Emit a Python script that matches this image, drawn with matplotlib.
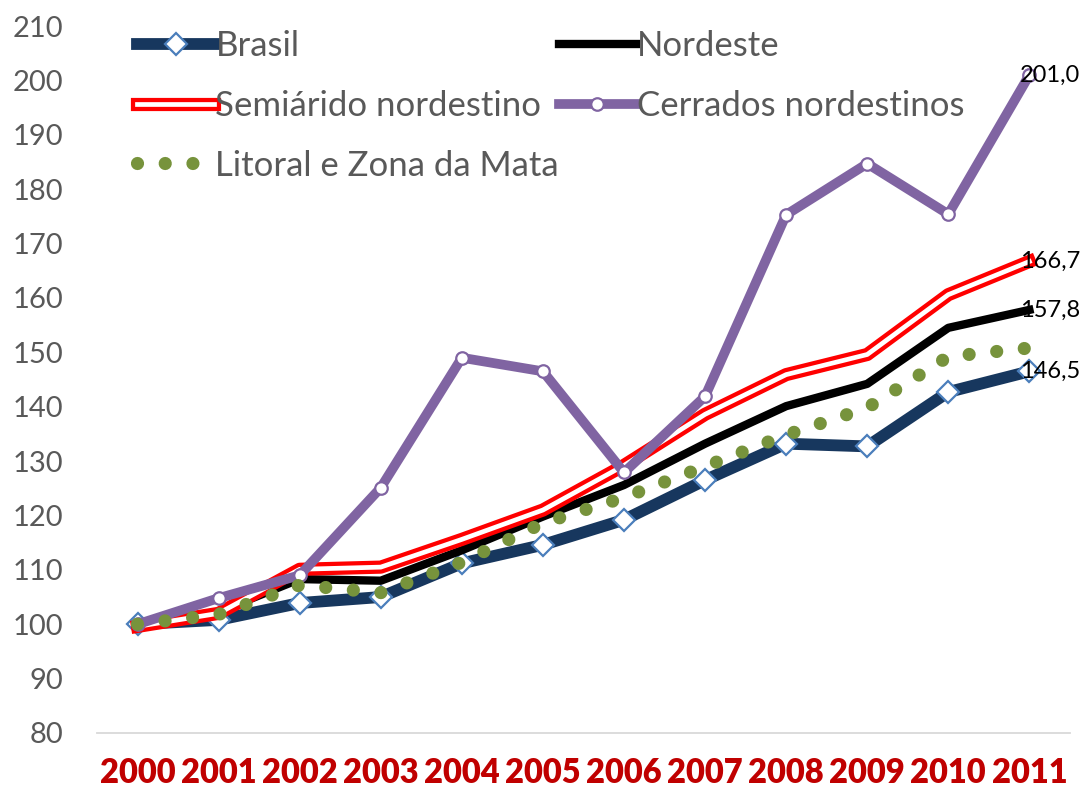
import numpy as np
import matplotlib
matplotlib.use("Agg")
import matplotlib.pyplot as plt

anos = ["2000", "2001", "2002", "2003", "2004", "2005",
        "2006", "2007", "2008", "2009", "2010", "2011"]
brasil = [100, 100.8, 103.9, 105.0, 111.2, 114.6, 119.2, 126.5, 133.2, 132.7, 142.7, 146.5]
nordeste = [100, 102.3, 108.3, 108.0, 113.6, 119.8, 125.6, 133.2, 140.1, 144.2, 154.5, 157.8]
semiarido = [99.6, 102.0, 110.1, 110.5, 115.6, 121.0, 129.2, 138.6, 145.9, 149.6, 160.6, 166.7]
cerrados = [100, 104.8, 109.0, 125.1, 149.0, 146.5, 127.9, 141.9, 175.3, 184.7, 175.4, 201.0]
litoral = [100, 101.8, 107.2, 105.8, 111.4, 118.6, 123.3, 129.0, 134.8, 139.8, 149.2, 150.8]

cinza = "#595959"
fonte = ["Lato", "DejaVu Sans"]
plt.rcParams["font.family"] = fonte

fig = plt.figure(figsize=(10.85, 7.89), dpi=100)
ax = fig.add_axes([0.0894, 0.071, 0.8967, 0.896])
x = np.arange(len(anos))

l_br, = ax.plot(x, brasil, color="#17375E", lw=8.5, solid_joinstyle="miter",
                marker="D", ms=11, mfc="white", mec="#4A7EBB", mew=1.6, zorder=2)
l_ne, = ax.plot(x, nordeste, color="black", lw=6, zorder=3)
l_sa1, = ax.plot(x, semiarido, color="#FF0000", lw=9.5, zorder=4)
l_sa2, = ax.plot(x, semiarido, color="white", lw=3.4, zorder=4.1)
l_ce, = ax.plot(x, cerrados, color="#8064A2", lw=7, marker="o", ms=9,
                mfc="white", mec="#8064A2", mew=1.6, zorder=5)
l_li, = ax.plot(x, litoral, color="#77933C", lw=9.5, linestyle=(0, (0.001, 2.1)),
                dash_capstyle="round", zorder=6)

for serie in [cerrados, semiarido, nordeste, brasil]:
    ax.annotate(f"{serie[-1]:.1f}".replace(".", ","), (x[-1], serie[-1]),
                xytext=(-7, 0), textcoords="offset points", ha="left", va="center",
                fontsize=17, color="black", zorder=10, annotation_clip=False)

ax.set_xlim(-0.5, 11.5)
ax.set_ylim(80, 210)
ax.set_yticks(np.arange(80, 211, 10))
ax.set_xticks(x)
ax.set_xticklabels(anos, fontsize=23.5, fontweight="heavy", color="#C00000")
ax.tick_params(axis="y", length=0, pad=24, labelsize=21, labelcolor=cinza)
ax.tick_params(axis="x", length=0, pad=17)
for s in ["left", "right", "top"]:
    ax.spines[s].set_visible(False)
ax.spines["bottom"].set_color("#D9D9D9")
ax.spines["bottom"].set_linewidth(1.3)

# ordem por colunas para que as linhas fiquem como no original
leg = ax.legend([l_br, (l_sa1, l_sa2), l_li, l_ne, l_ce],
                ["Brasil", "Semiárido nordestino", "Litoral e Zona da Mata",
                 "Nordeste", "Cerrados nordestinos"],
                ncol=2, loc="upper left", bbox_to_anchor=(0.1106, 0.984),
                bbox_transform=fig.transFigure, frameon=False, fontsize=25,
                handlelength=2.2, handletextpad=0.05, columnspacing=0.0,
                labelspacing=0.8, borderpad=0)
for t in leg.get_texts():
    t.set_color(cinza)

fig.savefig("out.png", dpi=100)
